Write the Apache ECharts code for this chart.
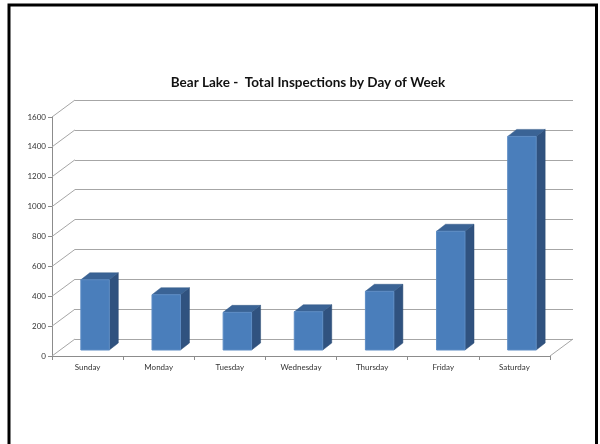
<!DOCTYPE html>
<html><head><meta charset="utf-8">
<script src="https://cdn.jsdelivr.net/npm/echarts@6/dist/echarts.min.js"></script>
<style>html,body{margin:0;padding:0;background:#fff}#c{width:600px;height:444px}</style>
</head><body><div id="c"></div>
<script>
const categories = ['Sunday','Monday','Tuesday','Wednesday','Thursday','Friday','Saturday'];
const inspections = [470, 370, 252, 256, 393, 795, 1430];
const yTicks = [0,200,400,600,800,1000,1200,1400,1600];
const titleText = 'Bear Lake -  Total Inspections by Day of Week';

const DX = 23, DY = -17;          // depth of the back wall
const BOX = 7.5, BOY = -6;        // bar front-face offset into depth
const BDX = 9, BDY = -7;          // bar depth

const chart = echarts.init(document.getElementById('c'), null, {renderer:'canvas'});
const labelFont = {fontFamily:'Lato, "Open Sans", sans-serif', fontSize:8, color:'#333'};

chart.setOption({
  animation:false,
  backgroundColor:'#fff',
  title:{text:titleText,left:303,textAlign:'center',top:71,
    textStyle:{fontFamily:'Lato, "Open Sans", sans-serif',fontWeight:'bold',fontSize:13.5,color:'#111'}},
  graphic:[
    {type:'polyline',shape:{points:[[9,444],[9,5],[596.5,5],[596.5,444]]},style:{stroke:'#000',lineWidth:3,fill:null},z:100}
  ],
  grid:[
    {left:52,right:50,top:117,bottom:88},
    {left:52+DX,right:50-DX,top:117+DY,bottom:88-DY}
  ],
  xAxis:[
    {type:'category',gridIndex:0,data:categories,
     axisLine:{show:true,lineStyle:{color:'#8c8c8c',width:1}},
     axisTick:{show:true,length:4,lineStyle:{color:'#8c8c8c'}},
     axisLabel:Object.assign({margin:7},labelFont),splitLine:{show:false}},
    {type:'category',gridIndex:1,data:categories,show:false}
  ],
  yAxis:[
    {type:'value',gridIndex:0,min:0,max:1600,interval:200,
     axisLine:{show:true,lineStyle:{color:'#8c8c8c',width:1}},
     axisTick:{show:true,length:4,lineStyle:{color:'#8c8c8c'}},
     axisLabel:Object.assign({margin:6,formatter:function(v){return String(v);}},labelFont),splitLine:{show:false}},
    {type:'value',gridIndex:1,min:0,max:1600,interval:200,
     axisLine:{show:false},axisTick:{show:false},axisLabel:{show:false},
     splitLine:{show:true,lineStyle:{color:'#a6a6a6',width:1}}}
  ],
  series:[
    { // left wall connectors and right floor edge
      type:'custom',xAxisIndex:0,yAxisIndex:0,data:yTicks.map(v=>[0,v]),silent:true,z:1,
      renderItem:function(params,api){
        const v = api.value(1);
        const p = api.coord([0,v]);
        const cs = params.coordSys;
        const x0 = cs.x;
        const children = [{type:'line',shape:{x1:x0,y1:p[1],x2:x0+DX,y2:p[1]+DY},
          style:{stroke:'#a6a6a6',lineWidth:1}}];
        if (v===0){
          children.push({type:'line',shape:{x1:x0+cs.width,y1:p[1],x2:x0+cs.width+DX,y2:p[1]+DY},
            style:{stroke:'#a6a6a6',lineWidth:1}});
        }
        return {type:'group',children:children};
      }
    },
    { // 3D bars
      type:'custom',xAxisIndex:0,yAxisIndex:0,z:5,
      data:inspections.map((v,i)=>[i,v]),
      renderItem:function(params,api){
        const i = api.value(0), v = api.value(1);
        const b = api.coord([i,0]), t = api.coord([i,v]);
        const band = api.size([1,0])[0];
        const w = band*0.4;
        const xl = b[0]-w/2+BOX, xr = b[0]+w/2+BOX;
        const yb = b[1]+BOY, yt = t[1]+BOY;
        return {type:'group',children:[
          {type:'polygon',shape:{points:[[xr,yb],[xr+BDX,yb+BDY],[xr+BDX,yt+BDY],[xr,yt]]},
            style:{fill:'#30527f',stroke:'#2b4a73',lineWidth:0.5}},
          {type:'polygon',shape:{points:[[xl,yt],[xr,yt],[xr+BDX,yt+BDY],[xl+BDX,yt+BDY]]},
            style:{fill:'#3a6395',stroke:'#345a88',lineWidth:0.5}},
          {type:'rect',shape:{x:xl,y:yt,width:w,height:yb-yt},
            style:{fill:'#4a7ebb',stroke:'#5d8cc4',lineWidth:1}}
        ]};
      }
    }
  ]
});
</script></body></html>
